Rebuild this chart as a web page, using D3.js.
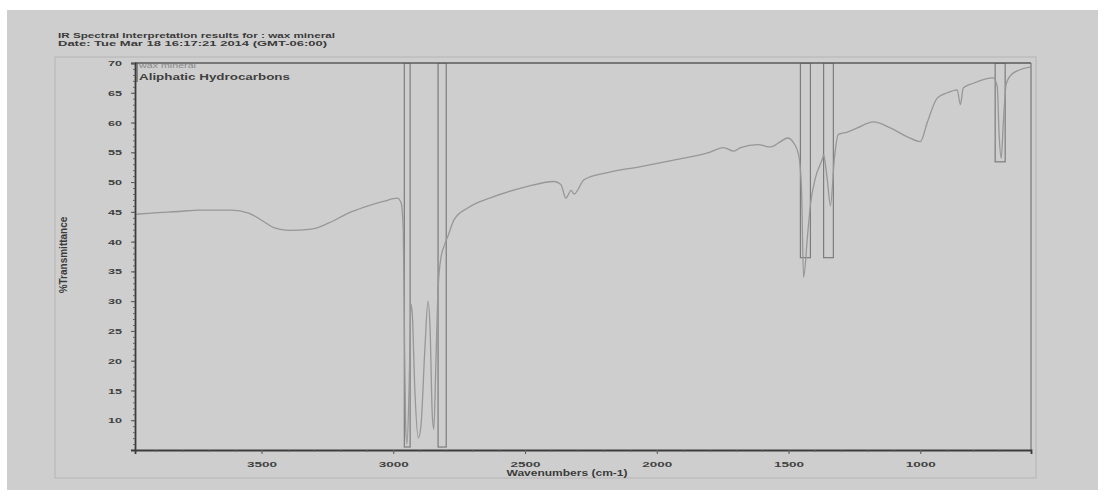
<!DOCTYPE html>
<html><head><meta charset="utf-8">
<script src="https://cdn.jsdelivr.net/npm/d3@7"></script>
<style>
html,body{margin:0;padding:0;background:#fff;}
text{font-family:"Liberation Sans",Arial,sans-serif;}
</style></head>
<body>
<svg id="c" width="1105" height="497"></svg>
<script>
// ---- data ----
const wavenumbers = [3975,3917,3803,3739,3614,3549,3489,3451,3398,3311,3246,3170,3110,3034,2985,2970,2962,2957,2953,2948,2940,2933,2928,2918,2905,2895,2880,2868,2860,2852,2846,2838,2830,2820,2805,2792,2769,2716,2629,2504,2390,2364,2345,2325,2314,2276,2186,2061,1936,1807,1746,1708,1682,1617,1568,1530,1504,1481,1462,1451,1443,1428,1417,1398,1371,1367,1360,1352,1341,1326,1311,1277,1239,1178,1114,1049,1000,973,936,898,860,848,837,799,723,708,701,693,685,674,648,583];
const transmittance = [44.6,44.8,45.1,45.3,45.3,44.8,43.3,42.3,41.9,42.1,43.1,44.8,45.8,46.8,47.3,46.5,42,22,9,6,15,29.5,28,15,7,9,22,30,25,11,8.5,20,32,37,39.5,41,43.7,45.7,47.4,49.1,50.1,49.6,47.3,48.6,48.0,50.4,51.6,52.6,53.7,54.9,55.8,55.2,55.8,56.3,55.9,56.8,57.4,56.6,54.6,49,34,41,46.2,50.7,54,54.6,52.9,50,46,54,58,58.4,59.1,60.1,59.1,57.6,56.8,60.1,64.1,65,65.5,63,65.8,66.6,67.5,66,58,54,60,66.5,68.3,69.3];
// interpretation regions (boxes hanging from the top)
const regionStart  = [2958, 2830, 1455, 1367, 716];
const regionEnd    = [2936, 2799, 1417, 1330, 678];
const regionBottom = [5.5, 5.5, 37.3, 37.3, 53.4];
const yTicks = [10,15,20,25,30,35,40,45,50,55,60,65,70];
const xTicks = [3500,3000,2500,2000,1500,1000];
const titleLines = ["IR Spectral Interpretation results for : wax mineral","Date:  Tue Mar 18 16:17:21 2014 (GMT-06:00)"];
const legendLines = ["wax mineral","Aliphatic Hydrocarbons"];

// ---- drawing ----
const svg = d3.select("#c");
const L=135, R=1031, T=63, B=450;
const x = d3.scaleLinear().domain([3980,580]).range([L,R]);
const y = d3.scaleLinear().domain([5,70]).range([B,T]);

// paper
svg.append("rect").attr("x",7).attr("y",10).attr("width",1091).attr("height",480).attr("fill","#cecece");
// outer frame
svg.append("rect").attr("x",55).attr("y",57).attr("width",981).attr("height",421)
  .attr("fill","none").attr("stroke","#b4b4b4").attr("stroke-width",1);

// title
const titleW = [277, 269];
svg.selectAll("text.title").data(titleLines).enter().append("text")
  .attr("x",58).attr("y",(d,i)=>38+i*8).attr("font-size",8).attr("font-weight","bold")
  .attr("textLength",(d,i)=>titleW[i]).attr("lengthAdjust","spacingAndGlyphs")
  .attr("fill","#3a3a3a").text(d=>d);

// plot area
const clipId="pc";
svg.append("clipPath").attr("id",clipId).append("rect").attr("x",L).attr("y",T).attr("width",R-L).attr("height",B-T);

// region boxes
const regions = regionStart.map((s,i)=>({s, e:regionEnd[i], b:regionBottom[i]}));
svg.append("g").attr("clip-path",`url(#${clipId})`).selectAll("rect").data(regions).enter().append("rect")
  .attr("x",d=>x(d.s)).attr("width",d=>x(d.e)-x(d.s))
  .attr("y",T).attr("height",d=>y(d.b)-T)
  .attr("fill","none").attr("stroke","#7c7c7c").attr("stroke-width",1.2);

// spectrum
const pts = wavenumbers.map((w,i)=>[w,transmittance[i]]);
svg.append("path").datum(pts).attr("clip-path",`url(#${clipId})`)
  .attr("d",d3.line().x(d=>x(d[0])).y(d=>y(d[1])).curve(d3.curveMonotoneX))
  .attr("fill","none").attr("stroke","#979797").attr("stroke-width",1.3);

// frame top/right
svg.append("line").attr("x1",L).attr("x2",R).attr("y1",T).attr("y2",T).attr("stroke","#5a5a5a").attr("stroke-width",1.3);
svg.append("line").attr("x1",R).attr("x2",R).attr("y1",T).attr("y2",B).attr("stroke","#777").attr("stroke-width",1.2);

// y axis
const yAxis = d3.axisLeft(y).tickValues(yTicks).tickSize(4).tickPadding(9).tickFormat(d3.format("d"));
const gy = svg.append("g").attr("transform",`translate(${L},0)`).call(yAxis);
gy.selectAll("text").attr("font-size",8).attr("font-weight","bold").attr("fill","#404040")
  .attr("textLength",14).attr("lengthAdjust","spacingAndGlyphs");
gy.select(".domain").attr("stroke","#3c3c3c").attr("stroke-width",1.8);
gy.selectAll(".tick line").attr("stroke","#555");
const gym = svg.append("g").attr("transform",`translate(${L},0)`)
  .call(d3.axisLeft(y).tickValues(d3.range(6,70,1)).tickSize(2).tickFormat(""));
gym.select(".domain").remove(); gym.selectAll("line").attr("stroke","#666");

// x axis
const xAxis = d3.axisBottom(x).tickValues(xTicks).tickSize(4).tickPadding(7).tickFormat(d3.format("d"));
const gx = svg.append("g").attr("transform",`translate(0,${B})`).call(xAxis);
gx.selectAll("text").attr("font-size",8).attr("font-weight","bold").attr("fill","#404040")
  .attr("textLength",30).attr("lengthAdjust","spacingAndGlyphs");
gx.select(".domain").attr("stroke","#3c3c3c").attr("stroke-width",1.8);
gx.selectAll(".tick line").attr("stroke","#555");
const gxm = svg.append("g").attr("transform",`translate(0,${B})`)
  .call(d3.axisBottom(x).tickValues(d3.range(3900,600,-100)).tickSize(2).tickFormat(""));
gxm.select(".domain").remove(); gxm.selectAll("line").attr("stroke","#666");

// axis titles
svg.append("text").attr("x",567).attr("y",476).attr("text-anchor","middle")
  .attr("font-size",9).attr("font-weight","bold").attr("fill","#3a3a3a")
  .attr("textLength",121).attr("lengthAdjust","spacingAndGlyphs").text("Wavenumbers (cm-1)");
svg.append("text").attr("transform","translate(67,255) rotate(-90)").attr("text-anchor","middle")
  .attr("font-size",10).attr("font-weight","bold").attr("fill","#3a3a3a").text("%Transmittance");

// legend text
svg.append("text").attr("x",139).attr("y",68).attr("font-size",7).attr("fill","#8a8a8a")
  .attr("textLength",57).attr("lengthAdjust","spacingAndGlyphs").text(legendLines[0]);
svg.append("text").attr("x",139).attr("y",80).attr("font-size",9).attr("font-weight","bold").attr("fill","#404040")
  .attr("textLength",151).attr("lengthAdjust","spacingAndGlyphs").text(legendLines[1]);
svg.append("line").attr("x1",137).attr("x2",137).attr("y1",63).attr("y2",82).attr("stroke","#555").attr("stroke-width",1.2);
</script>
</body></html>
